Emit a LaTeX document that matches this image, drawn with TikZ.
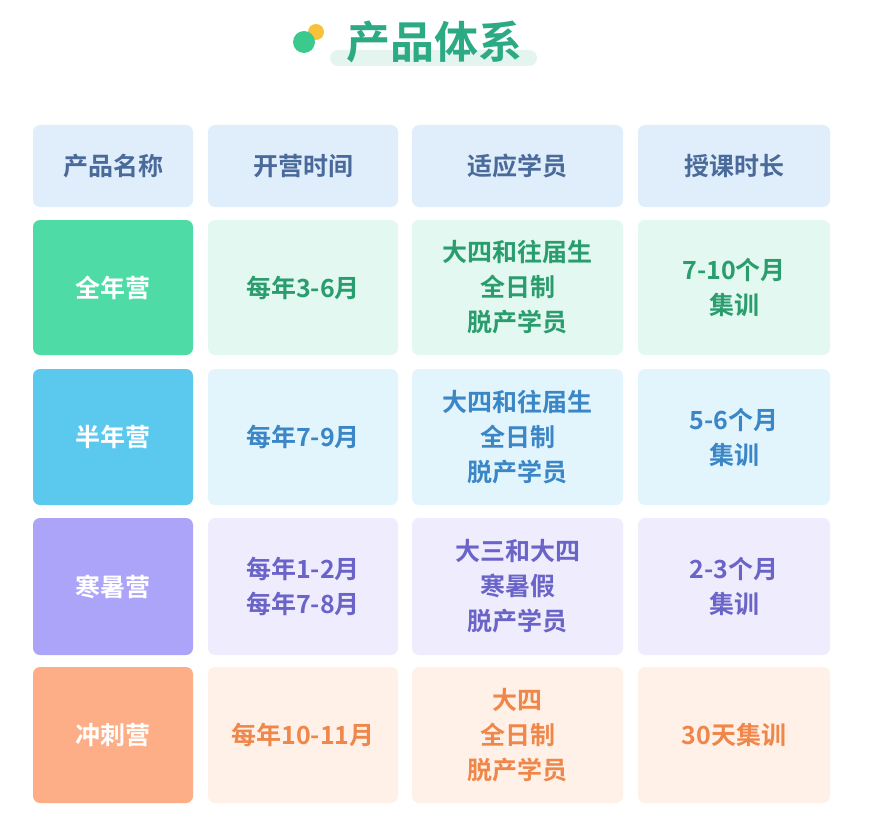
\documentclass[tikz,border=0pt]{standalone}
\usepackage{fontspec}
\newfontfamily\cjk{Noto Sans CJK SC}[BoldFont={* Bold}]
\definecolor{hdF}{HTML}{E0EEFC}\definecolor{hdT}{HTML}{4A6A9A}
\definecolor{gA}{HTML}{4FDBA6}\definecolor{gB}{HTML}{E3F8F0}\definecolor{gT}{HTML}{2A9D6E}
\definecolor{bA}{HTML}{5BC8EE}\definecolor{bB}{HTML}{E3F5FC}\definecolor{bT}{HTML}{3A86C6}
\definecolor{pA}{HTML}{ACA4F8}\definecolor{pB}{HTML}{EFEDFD}\definecolor{pT}{HTML}{6A64C8}
\definecolor{oA}{HTML}{FDAE86}\definecolor{oB}{HTML}{FFF1E8}\definecolor{oT}{HTML}{F0874A}
\definecolor{ttl}{HTML}{2BAA84}\definecolor{ttlB}{HTML}{E3F5EE}
\definecolor{dotG}{HTML}{3CC98E}\definecolor{dotY}{HTML}{F7C23A}
\begin{document}
\begin{tikzpicture}[x=1pt,y=-1pt,
 cell/.style={rounded corners=7pt,inner sep=0pt,outer sep=0pt},
 txt/.style={font=\cjk\bfseries\fontsize{25}{35}\selectfont,align=center}]
\useasboundingbox (0,0) rectangle (870,840);
\fill[white] (0,0) rectangle (870,840);
% title
\fill[ttlB,rounded corners=8pt] (330,50) rectangle (537,66);
\fill[dotY] (316,32) circle (8);
\fill[dotG] (304,42) circle (11);
\node[font=\cjk\bfseries\fontsize{44}{46}\selectfont,text=ttl] (title) at (434,42) {产品体系};
\def\xs{{33,208,412,638}}\def\xe{{193,398,623,830}}
\def\ys{{125,220,369,518,667}}\def\ye{{207,355,505,655,803}}
\newcommand\cellbox[5]{% col,row,fill,textcolor,text
 \pgfmathsetmacro\ax{\xs[#1]}\pgfmathsetmacro\bx{\xe[#1]}
 \pgfmathsetmacro\ay{\ys[#2]}\pgfmathsetmacro\by{\ye[#2]}
 \fill[cell,#3] (\ax,\ay) rectangle (\bx,\by);
 \node[txt,text=#4] (c#1#2) at ({(\ax+\bx)/2},{(\ay+\by)/2}) {#5};}
\cellbox{0}{0}{hdF}{hdT}{产品名称}
\cellbox{1}{0}{hdF}{hdT}{开营时间}
\cellbox{2}{0}{hdF}{hdT}{适应学员}
\cellbox{3}{0}{hdF}{hdT}{授课时长}
\cellbox{0}{1}{gA}{white}{全年营}
\cellbox{1}{1}{gB}{gT}{每年3-6月}
\cellbox{2}{1}{gB}{gT}{大四和往届生\\全日制\\脱产学员}
\cellbox{3}{1}{gB}{gT}{7-10个月\\集训}
\cellbox{0}{2}{bA}{white}{半年营}
\cellbox{1}{2}{bB}{bT}{每年7-9月}
\cellbox{2}{2}{bB}{bT}{大四和往届生\\全日制\\脱产学员}
\cellbox{3}{2}{bB}{bT}{5-6个月\\集训}
\cellbox{0}{3}{pA}{white}{寒暑营}
\cellbox{1}{3}{pB}{pT}{每年1-2月\\每年7-8月}
\cellbox{2}{3}{pB}{pT}{大三和大四\\寒暑假\\脱产学员}
\cellbox{3}{3}{pB}{pT}{2-3个月\\集训}
\cellbox{0}{4}{oA}{white}{冲刺营}
\cellbox{1}{4}{oB}{oT}{每年10-11月}
\cellbox{2}{4}{oB}{oT}{大四\\全日制\\脱产学员}
\cellbox{3}{4}{oB}{oT}{30天集训}
\end{tikzpicture}
\end{document}
